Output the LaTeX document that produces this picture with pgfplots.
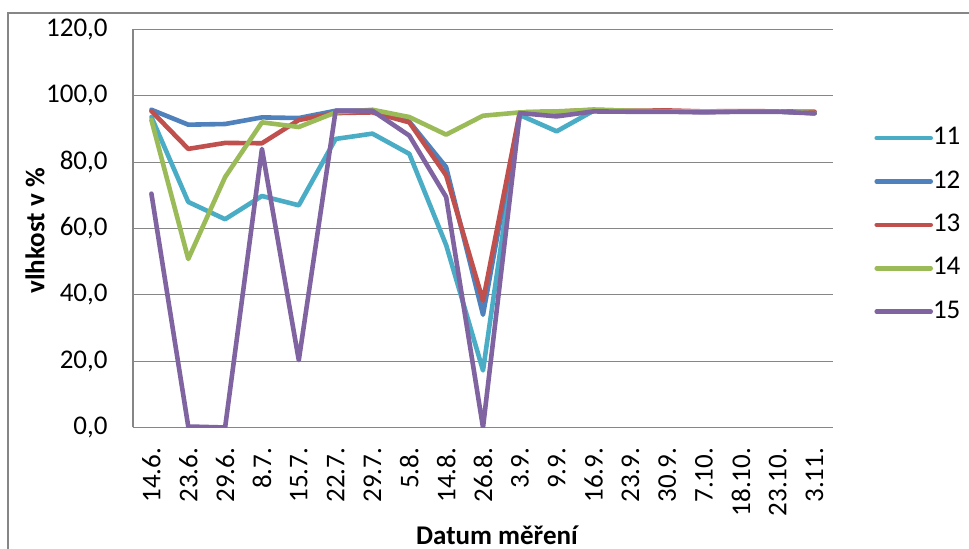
\documentclass[border=0pt]{standalone}
\usepackage{fontspec}
\setmainfont{Carlito}
\usepackage{pgfplots}
\pgfplotsset{compat=1.18}
\usepackage{pgfplotstable}
\definecolor{c11}{HTML}{4BACC6}
\definecolor{c12}{HTML}{4F81BD}
\definecolor{c13}{HTML}{C0504D}
\definecolor{c14}{HTML}{9BBB59}
\definecolor{c15}{HTML}{8064A2}
\definecolor{gridgray}{HTML}{868686}

\pgfplotstableread{
x  a     b     c     d     e
0  93.6  95.8  95.4  92.7  70.5
1  68.0  91.3  84.0  50.8  0.3
2  62.8  91.5  85.8  75.5  0.0
3  69.8  93.5  85.7  92.0  84.0
4  67.0  93.3  92.7  90.6  20.3
5  87.0  95.5  94.8  95.0  95.5
6  88.6  95.5  95.0  95.8  95.5
7  82.5  92.2  92.0  93.6  88.0
8  55.0  78.5  76.0  88.3  69.5
9  17.2  34.0  38.2  94.0  0.0
10 94.2  95.0  95.0  95.0  94.8
11 89.3  95.2  95.2  95.3  93.8
12 95.5  95.5  95.8  95.8  95.3
13 95.3  95.3  95.5  95.5  95.2
14 95.3  95.3  95.6  95.3  95.2
15 95.2  95.2  95.3  95.3  95.0
16 95.3  95.3  95.4  95.3  95.2
17 95.3  95.3  95.3  95.3  95.2
18 94.8  94.8  95.2  94.8  94.7
}\data

\begin{document}
\fontsize{13.5}{16}\selectfont
\begin{tikzpicture}[font=\fontsize{13.5}{16}\selectfont]
\begin{axis}[
  at={(0,0)}, anchor=south west,
  scale only axis, width=350pt, height=199pt,
  xmin=-0.5, xmax=18.5, ymin=0, ymax=120,
  xtick={0,...,18},
  xticklabels={14.6.,23.6.,29.6.,8.7.,15.7.,22.7.,29.7.,5.8.,14.8.,26.8.,3.9.,9.9.,16.9.,23.9.,30.9.,7.10.,18.10.,23.10.,3.11.},
  ytick={0,20,...,120},
  major tick length=0pt,
  axis x line*=bottom, axis y line*=left,
  axis line style={draw=gridgray, line width=0.65pt, -},
  ymajorgrids, grid style={draw=gridgray, line width=0.65pt},
  /pgf/number format/assume math mode=true,
  yticklabel style={inner sep=0pt, anchor=east, /pgf/number format/fixed, /pgf/number format/fixed zerofill, /pgf/number format/precision=1, /pgf/number format/use comma},
  yticklabel shift=12.5pt,
  xticklabel style={rotate=90, anchor=east, inner sep=0pt},
  xticklabel shift=10pt,
  ylabel={\bfseries vlhkost v \%},
  ylabel style={at={(axis description cs:-0.14,0.494)}, anchor=center},
  xlabel={\bfseries Datum měření},
  xlabel style={at={(axis description cs:0.52,-0.293)}, anchor=base},
  every axis plot/.append style={line width=2.3pt, line join=round, line cap=round},
  legend image code/.code={\draw[#1, line cap=round] (0pt,0pt) -- (27pt,0pt);},
  legend style={draw=none, fill=none, at={(axis description cs:1.050,0.791)}, anchor=north west,
    row sep=0.7pt, nodes={inner sep=0pt, minimum height=21pt, xshift=-3pt}},
  legend cell align=left,
]
\addplot[c11] table[x=x, y=a] {\data};
\addplot[c12] table[x=x, y=b] {\data};
\addplot[c13] table[x=x, y=c] {\data};
\addplot[c14] table[x=x, y=d] {\data};
\addplot[c15] table[x=x, y=e] {\data};
\legend{11,12,13,14,15}
\end{axis}
\draw[gridgray, line width=0.65pt] (-62.5pt,-80pt) |- (440pt,207.25pt);
\pgfresetboundingbox
\path[use as bounding box] (-66.5pt,-60.75pt) rectangle (418pt,213.75pt);
\end{tikzpicture}
\end{document}
